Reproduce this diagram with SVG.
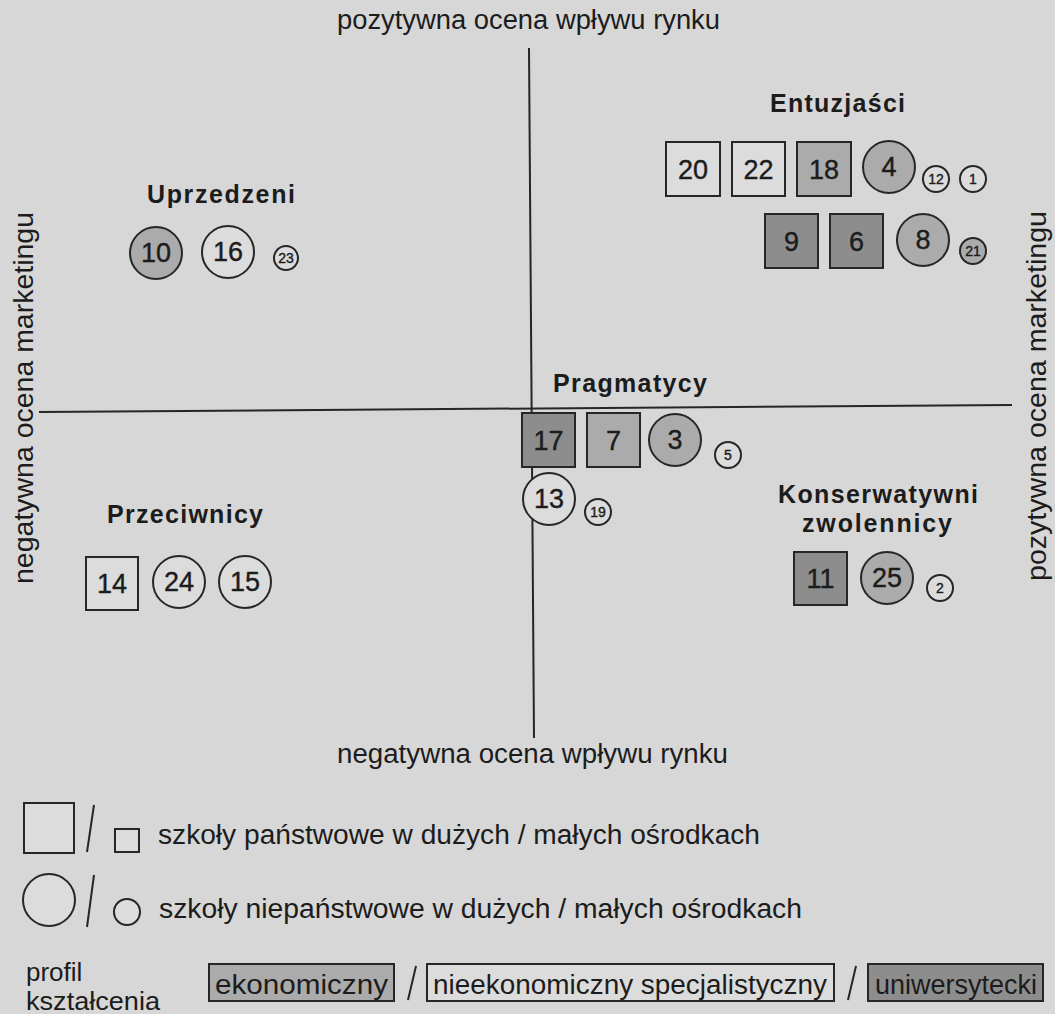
<svg xmlns="http://www.w3.org/2000/svg" width="1055" height="1014" viewBox="0 0 1055 1014">
<style>
text{font-family:"Liberation Sans",Arial,Helvetica,sans-serif;fill:#1c1c1c}
.ax{font-size:27px}
.lbl{font-size:25px;font-weight:bold}
.num{font-size:27px;text-anchor:middle;stroke:#1c1c1c;stroke-width:0.4}
.sm{font-size:14px;text-anchor:middle;stroke:#1c1c1c;stroke-width:0.4}
.leg{font-size:27px}
.box{stroke:#262626;stroke-width:2}
.wh{fill:#dcdcdc}
.eko{fill:#ababab}
.uni{fill:#8d8d8d}
.line{stroke:#262626;stroke-width:2;fill:none}
</style>
<rect x="0" y="0" width="1055" height="1014" fill="#d7d7d7"/>

<g id="axes">
<line class="line" x1="529" y1="48" x2="534" y2="738"/>
<line class="line" x1="39" y1="412" x2="1012" y2="405"/>
<text class="ax" x="337" y="29" textLength="383" lengthAdjust="spacingAndGlyphs">pozytywna ocena wpływu rynku</text>
<text class="ax" x="337" y="763" textLength="391" lengthAdjust="spacingAndGlyphs">negatywna ocena wpływu rynku</text>
<text class="ax" transform="translate(33,398) rotate(-90)" text-anchor="middle" textLength="372" lengthAdjust="spacingAndGlyphs">negatywna ocena marketingu</text>
<text class="ax" transform="translate(1046,396) rotate(-90)" text-anchor="middle" textLength="370" lengthAdjust="spacingAndGlyphs">pozytywna ocena marketingu</text>
</g>

<g id="entuzjasci">
<text class="lbl" x="770" y="112" textLength="135">Entuzjaści</text>
<g id="n20"><rect class="box wh" x="666" y="142" width="54" height="54"/><text class="num" x="693" y="179">20</text></g>
<g id="n22"><rect class="box wh" x="732" y="142" width="53" height="54"/><text class="num" x="758.5" y="179">22</text></g>
<g id="n18"><rect class="box eko" x="797" y="142" width="54" height="54"/><text class="num" x="824" y="179">18</text></g>
<g id="n4"><circle class="box eko" cx="889" cy="167" r="26"/><text class="num" x="889" y="176">4</text></g>
<g id="n12"><circle class="box wh" cx="936" cy="179" r="13"/><text class="sm" x="936" y="184">12</text></g>
<g id="n1"><circle class="box wh" cx="973" cy="179" r="13"/><text class="sm" x="973" y="184">1</text></g>
<g id="n9"><rect class="box uni" x="765" y="214" width="53" height="54"/><text class="num" x="791.5" y="251">9</text></g>
<g id="n6"><rect class="box uni" x="830" y="214" width="53" height="54"/><text class="num" x="856.5" y="251">6</text></g>
<g id="n8"><circle class="box eko" cx="923" cy="240" r="26"/><text class="num" x="923" y="249">8</text></g>
<g id="n21"><circle class="box eko" cx="973" cy="251" r="13"/><text class="sm" x="973" y="256">21</text></g>
</g>

<g id="uprzedzeni">
<text class="lbl" x="147" y="203" textLength="148">Uprzedzeni</text>
<g id="n10"><circle class="box eko" cx="156" cy="253" r="26"/><text class="num" x="156" y="262">10</text></g>
<g id="n16"><circle class="box wh" cx="228" cy="252" r="26"/><text class="num" x="228" y="261">16</text></g>
<g id="n23"><circle class="box wh" cx="286" cy="258" r="12"/><text class="sm" x="286" y="263">23</text></g>
</g>

<g id="pragmatycy">
<text class="lbl" x="553" y="392" textLength="154">Pragmatycy</text>
<g id="n17"><rect class="box uni" x="522" y="413" width="53" height="54"/><text class="num" x="548.5" y="450">17</text></g>
<g id="n7"><rect class="box eko" x="587" y="413" width="53" height="54"/><text class="num" x="613.5" y="450">7</text></g>
<g id="n3"><circle class="box eko" cx="675" cy="440" r="26"/><text class="num" x="675" y="449">3</text></g>
<g id="n5"><circle class="box wh" cx="728" cy="455" r="13"/><text class="sm" x="728" y="460">5</text></g>
<g id="n13"><circle class="box wh" cx="549" cy="499" r="26"/><text class="num" x="549" y="508">13</text></g>
<g id="n19"><circle class="box wh" cx="598" cy="512" r="13"/><text class="sm" x="598" y="517">19</text></g>
</g>

<g id="przeciwnicy">
<text class="lbl" x="107" y="523" textLength="156">Przeciwnicy</text>
<g id="n14"><rect class="box wh" x="86" y="557" width="52" height="53"/><text class="num" x="112" y="593">14</text></g>
<g id="n24"><circle class="box wh" cx="179" cy="582" r="26"/><text class="num" x="179" y="591">24</text></g>
<g id="n15"><circle class="box wh" cx="245" cy="582" r="26"/><text class="num" x="245" y="591">15</text></g>
</g>

<g id="konserwatywni">
<text class="lbl" x="778" y="503" textLength="200">Konserwatywni</text>
<text class="lbl" x="802" y="532" textLength="150">zwolennicy</text>
<g id="n11"><rect class="box uni" x="794" y="552" width="53" height="53"/><text class="num" x="820.5" y="588">11</text></g>
<g id="n25"><circle class="box eko" cx="887" cy="578" r="26"/><text class="num" x="887" y="587">25</text></g>
<g id="n2"><circle class="box wh" cx="940" cy="588" r="13"/><text class="sm" x="940" y="593">2</text></g>
</g>

<g id="legend">
<rect class="box wh" x="24" y="803" width="50" height="50"/>
<line class="line" x1="94" y1="805" x2="87" y2="852"/>
<rect class="box wh" x="115" y="829" width="24" height="23"/>
<text class="leg" x="158" y="844" textLength="602" lengthAdjust="spacingAndGlyphs">szkoły państwowe w dużych / małych ośrodkach</text>
<circle class="box wh" cx="49" cy="900" r="26"/>
<line class="line" x1="94" y1="875" x2="87" y2="927"/>
<circle class="box wh" cx="127" cy="912" r="13"/>
<text class="leg" x="159" y="918" textLength="643" lengthAdjust="spacingAndGlyphs">szkoły niepaństwowe w dużych / małych ośrodkach</text>
<text class="leg" x="26" y="981" style="font-size:26px">profil</text>
<text class="leg" x="26" y="1010" style="font-size:26px" textLength="134" lengthAdjust="spacingAndGlyphs">kształcenia</text>
<rect class="box eko" x="209" y="964" width="185" height="37"/>
<text class="leg" x="215" y="994" textLength="173" lengthAdjust="spacingAndGlyphs">ekonomiczny</text>
<line class="line" x1="416" y1="966" x2="408" y2="1000"/>
<rect class="box wh" x="427" y="964" width="407" height="37"/>
<text class="leg" x="433" y="994" textLength="394" lengthAdjust="spacingAndGlyphs">nieekonomiczny specjalistyczny</text>
<line class="line" x1="856" y1="966" x2="848" y2="1000"/>
<rect class="box uni" x="868" y="964" width="175" height="37"/>
<text class="leg" x="875" y="994" textLength="162" lengthAdjust="spacingAndGlyphs">uniwersytecki</text>
</g>
</svg>
